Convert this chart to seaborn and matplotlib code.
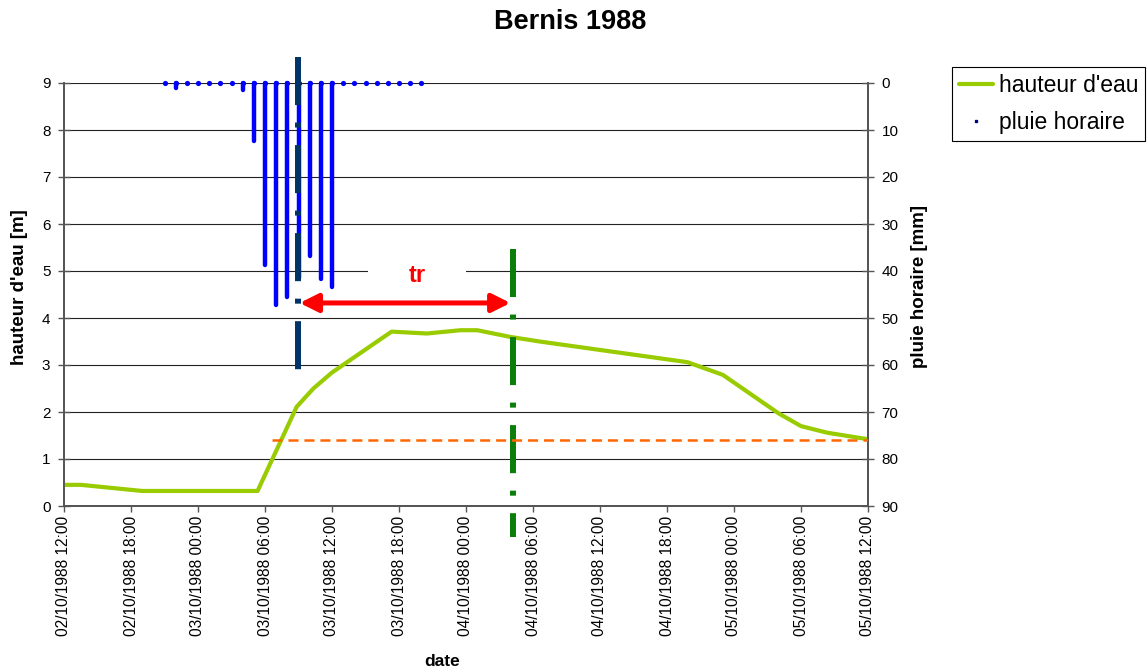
import matplotlib
matplotlib.use("Agg")
import matplotlib.pyplot as plt
import matplotlib.dates as mdates
from matplotlib.lines import Line2D
from matplotlib.patches import Rectangle, FancyArrowPatch
import pandas as pd
import seaborn as sns

# --- hauteur d'eau (limnigramme) ---------------------------------------
niveau_dates = [
    "1988-10-02 12:00", "1988-10-02 13:30", "1988-10-02 19:00",
    "1988-10-03 05:20", "1988-10-03 08:50", "1988-10-03 10:20",
    "1988-10-03 12:00", "1988-10-03 17:20", "1988-10-03 20:30",
    "1988-10-03 23:30", "1988-10-04 01:00", "1988-10-04 03:55",
    "1988-10-04 06:35", "1988-10-04 19:50", "1988-10-04 23:00",
    "1988-10-05 04:00", "1988-10-05 06:00", "1988-10-05 08:20",
    "1988-10-05 12:00",
]
niveau_m = [0.45, 0.45, 0.32, 0.32, 2.11, 2.50, 2.84, 3.71, 3.67, 3.74,
            3.74, 3.60, 3.50, 3.06, 2.79, 1.97, 1.70, 1.56, 1.42]

# --- pluie horaire --------------------------------------------------------
pluie_dates = [
    "1988-10-02 21:00", "1988-10-02 22:00", "1988-10-02 23:00",
    "1988-10-03 00:00", "1988-10-03 01:00", "1988-10-03 02:00",
    "1988-10-03 03:00", "1988-10-03 04:00", "1988-10-03 05:00",
    "1988-10-03 06:00", "1988-10-03 07:00", "1988-10-03 08:00",
    "1988-10-03 09:00", "1988-10-03 10:00", "1988-10-03 11:00",
    "1988-10-03 12:00", "1988-10-03 13:00", "1988-10-03 14:00",
    "1988-10-03 15:00", "1988-10-03 16:00", "1988-10-03 17:00",
    "1988-10-03 18:00", "1988-10-03 19:00", "1988-10-03 20:00",
]
pluie_mm = [0, 1.0, 0, 0, 0, 0, 0, 1.5, 12.3, 38.7, 47.2, 45.6,
            41.5, 36.9, 41.6, 43.3, 0, 0, 0, 0, 0, 0, 0, 0]

# --- repères : centre de la pluie, pic de crue, seuil ---------------------
t_pluie = "1988-10-03 08:55"
t_pic = "1988-10-04 04:10"
t_seuil = "1988-10-03 06:40"
seuil_m = 1.40
tr_m = 4.32

x_debut = "1988-10-02 12:00"
x_fin = "1988-10-05 12:00"

df_niveau = pd.DataFrame({"date": pd.to_datetime(niveau_dates), "hauteur": niveau_m})
df_pluie = pd.DataFrame({"date": pd.to_datetime(pluie_dates), "pluie": pluie_mm})

sns.set_theme(style="white")
plt.rcParams["font.family"] = ["Liberation Sans", "DejaVu Sans"]
plt.rcParams["lines.scale_dashes"] = False
plt.rcParams["text.color"] = "black"
plt.rcParams["axes.labelcolor"] = "black"
plt.rcParams["xtick.color"] = "black"
plt.rcParams["ytick.color"] = "black"

W, H = 1147, 671
fig = plt.figure(figsize=(W / 100, H / 100), dpi=100)
ax = fig.add_axes([64 / W, 1 - 506 / H, 804 / W, 423 / H])
ax2 = ax.twinx()

num = lambda s: mdates.date2num(pd.Timestamp(s))

# limnigramme
sns.lineplot(data=df_niveau, x="date", y="hauteur", ax=ax, color="#99CC00",
             linewidth=3.0, legend=False, zorder=3)

ax.set_xlim(pd.Timestamp(x_debut), pd.Timestamp(x_fin))
ax.set_ylim(0, 9)
ax.set_yticks(range(0, 10))
ax2.set_ylim(90, 0)
ax2.set_yticks(range(0, 100, 10))
ax.set_xlabel("")
ax.set_ylabel("")

ax.xaxis.set_major_locator(mdates.HourLocator(byhour=[0, 6, 12, 18]))
ax.xaxis.set_major_formatter(mdates.DateFormatter("%d/%m/%Y %H:%M"))
for lab in ax.get_xticklabels():
    lab.set_rotation(90)

ax.set_axisbelow(True)
ax.yaxis.grid(True, color="#222222", linewidth=0.8)
ax.xaxis.grid(False)

spine_c = "#555555"
for a in (ax, ax2):
    for side, sp in a.spines.items():
        sp.set_color(spine_c)
        sp.set_linewidth(1.3)
    a.spines["top"].set_visible(False)
ax.tick_params(axis="y", direction="inout", length=8.6, width=1, color=spine_c,
               labelsize=11, pad=5.5, left=True, labelcolor="black")
ax.tick_params(axis="x", direction="out", length=4.3, width=1, color=spine_c,
               labelsize=11.2, pad=3, bottom=True, labelcolor="black")
ax2.tick_params(axis="y", direction="inout", length=8.6, width=1, color=spine_c,
                labelsize=11, pad=5.5, right=True, labelcolor="black")

# pluie horaire : barres inversées depuis le haut
pluie_num = [num(d) for d in pluie_dates]
barres = ax2.vlines([x for x, v in zip(pluie_num, pluie_mm) if v > 0], 0,
                    [v for v in pluie_mm if v > 0], color="#0000FF",
                    linewidth=3.2, clip_on=False, zorder=3)
barres.set_capstyle("round")
sns.scatterplot(data=df_pluie, x="date", y=[0] * len(pluie_mm), ax=ax2,
                color="#0000FF", s=14, linewidth=0, clip_on=False, zorder=3,
                legend=False)
ax2.set_ylim(90, 0)
ax2.set_ylabel("")
ax2.set_xlabel("")

# lignes repères (coordonnées en hauteur d'eau)
motif = (0, (34.6, 12.6, 3.6, 12.6))
ax2.add_line(Line2D([num(t_pluie)] * 2, [9.55, 2.79], transform=ax.transData,
                    color="#003366", linewidth=4.3, linestyle=motif,
                    dash_capstyle="butt", clip_on=False, zorder=5))
ax2.add_line(Line2D([num(t_pic)] * 2, [5.47, -0.66], transform=ax.transData,
                    color="#0A7D0A", linewidth=4.3, linestyle=motif,
                    dash_capstyle="butt", clip_on=False, zorder=5))
ax2.add_line(Line2D([num(t_seuil), num(x_fin)], [seuil_m, seuil_m],
                    transform=ax.transData, color="#FF6600", linewidth=1.8,
                    linestyle=(0, (7.2, 4.3)), zorder=6))

# temps de réponse
ax2.add_patch(Rectangle((num("1988-10-03 15:13"), 4.6),
                        num("1988-10-04 00:00") - num("1988-10-03 15:13"), 0.75,
                        transform=ax.transData, facecolor="white",
                        edgecolor="none", zorder=4))
ax2.text(num("1988-10-03 19:36"), 4.9, "tr", transform=ax.transData,
         color="#FF0000", fontsize=17, fontweight="bold",
         ha="center", va="center", zorder=7)
fleche = FancyArrowPatch((num(t_pluie), tr_m), (num(t_pic), tr_m),
                         transform=ax.transData,
                         arrowstyle="<|-|>,head_length=11,head_width=5.5",
                         mutation_scale=1, color="#FF0000", linewidth=3.6,
                         shrinkA=1.5, shrinkB=1.5, zorder=7)
ax2.add_patch(fleche)

# textes
fig.text(570 / W, 1 - 22 / H, "Bernis 1988", ha="center", va="center",
         fontsize=19.5, fontweight="bold")
fig.text(442 / W, 1 - 661 / H, "date", ha="center", va="center",
         fontsize=12.5, fontweight="bold")
fig.text(20 / W, 1 - 287 / H, "hauteur d'eau [m]", ha="center", va="center",
         rotation=90, fontsize=13.5, fontweight="bold")
fig.text(920 / W, 1 - 287 / H, "pluie horaire [mm]", ha="center", va="center",
         rotation=90, fontsize=13.5, fontweight="bold")

# légende
poignees = [
    Line2D([], [], color="#99CC00", linewidth=3.0),
    Line2D([], [], color="#000080", marker="s", markersize=2, linestyle="none"),
]
leg = fig.legend(poignees, ["hauteur d'eau", "pluie horaire"],
                 loc="upper left", bbox_to_anchor=(952 / W, 1 - 67 / H),
                 bbox_transform=fig.transFigure, fontsize=16.5, frameon=True,
                 fancybox=False, borderaxespad=0, borderpad=0.3,
                 handlelength=1.5, handletextpad=0.25, labelspacing=0.6)
leg.get_frame().set_edgecolor("black")
leg.get_frame().set_linewidth(0.8)
leg.get_frame().set_alpha(1)

fig.savefig("out.png", dpi=100)
